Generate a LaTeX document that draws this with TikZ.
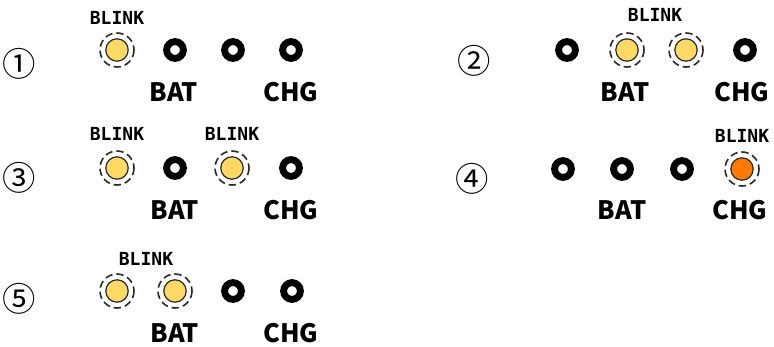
\documentclass[tikz,border=0pt]{standalone}
\usepackage{fontspec}
\newfontfamily\cjkfont{Noto Sans CJK JP}
\newfontfamily\monofont{DejaVu Sans Mono}
\definecolor{ledyellow}{HTML}{FFD966}
\definecolor{ledorange}{HTML}{FF7A00}
\definecolor{ledline}{HTML}{2A2A2A}
\tikzset{
  % LED styles: off, lit (yellow), lit (orange), and the dashed blink ring
  off led/.style={circle,draw=black,line width=5.2pt,minimum size=12.6pt,inner sep=0},
  on led/.style={circle,draw=ledline,line width=0.9pt,fill=ledyellow,minimum size=16.8pt,inner sep=0},
  chg led/.style={on led,fill=ledorange},
  blink ring/.style={draw=ledline,dash pattern=on 5.5pt off 3pt,line width=1.2pt},
  % text styles
  blink text/.style={font=\monofont\bfseries\fontsize{13.5}{14}\selectfont,inner sep=0},
  name text/.style={font=\cjkfont\bfseries\fontsize{19}{20}\selectfont,inner sep=0},
  step num/.style={font=\cjkfont\fontsize{25}{26}\selectfont,inner sep=0}
}

\begin{document}
\begin{tikzpicture}[x=0.75pt,y=-0.75pt]
  \useasboundingbox (0,0) rectangle (774,346);
  % Pattern 1
  \node(n1)[step num] at (19,64) {①};
  \node(a1)[on led] at (117,50) {};
  \node(a2)[off led] at (175,50) {};
  \node(a3)[off led] at (233,50) {};
  \node(a4)[off led] at (291,50) {};
  \draw[blink ring] (a1) circle[radius=17];
  \node(a-blink)[blink text] at (117,18) {BLINK};
  \node(a-bat)[name text] at (174,92) {BAT};
  \node(a-chg)[name text] at (291,92) {CHG};
  % Pattern 2
  \node(n2)[step num] at (474,61) {②};
  \node(b1)[off led] at (567,50) {};
  \node(b2)[on led] at (627,50) {};
  \node(b3)[on led] at (686,50) {};
  \node(b4)[off led] at (745,50) {};
  \draw[blink ring] (b2) circle[radius=17];
  \draw[blink ring] (b3) circle[radius=17];
  \node(b-blink)[blink text] at (655,15) {BLINK};
  \node(b-bat)[name text] at (625,92) {BAT};
  \node(b-chg)[name text] at (742,92) {CHG};
  % Pattern 3
  \node(n3)[step num] at (19,178) {③};
  \node(c1)[on led] at (117,168) {};
  \node(c2)[off led] at (175,168) {};
  \node(c3)[on led] at (232,168) {};
  \node(c4)[off led] at (291,168) {};
  \draw[blink ring] (c1) circle[radius=17];
  \draw[blink ring] (c3) circle[radius=17];
  \node(c-blink1)[blink text] at (117,134) {BLINK};
  \node(c-blink2)[blink text] at (232,134) {BLINK};
  \node(c-bat)[name text] at (175,210) {BAT};
  \node(c-chg)[name text] at (291,210) {CHG};
  % Pattern 4
  \node(n4)[step num] at (472,179) {④};
  \node(d1)[off led] at (563,169) {};
  \node(d2)[off led] at (622,169) {};
  \node(d3)[off led] at (682,169) {};
  \node(d4)[chg led] at (742,169) {};
  \draw[blink ring] (d4) circle[radius=17];
  \node(d-blink)[blink text] at (742,136) {BLINK};
  \node(d-bat)[name text] at (622,210) {BAT};
  \node(d-chg)[name text] at (740,210) {CHG};
  % Pattern 5
  \node(n5)[step num] at (19,299) {⑤};
  \node(e1)[on led] at (117,291) {};
  \node(e2)[on led] at (175,291) {};
  \node(e3)[off led] at (233,291) {};
  \node(e4)[off led] at (292,291) {};
  \draw[blink ring] (e1) circle[radius=17];
  \draw[blink ring] (e2) circle[radius=17];
  \node(e-blink)[blink text] at (146,259) {BLINK};
  \node(e-bat)[name text] at (175,333) {BAT};
  \node(e-chg)[name text] at (291,333) {CHG};
\end{tikzpicture}
\end{document}
